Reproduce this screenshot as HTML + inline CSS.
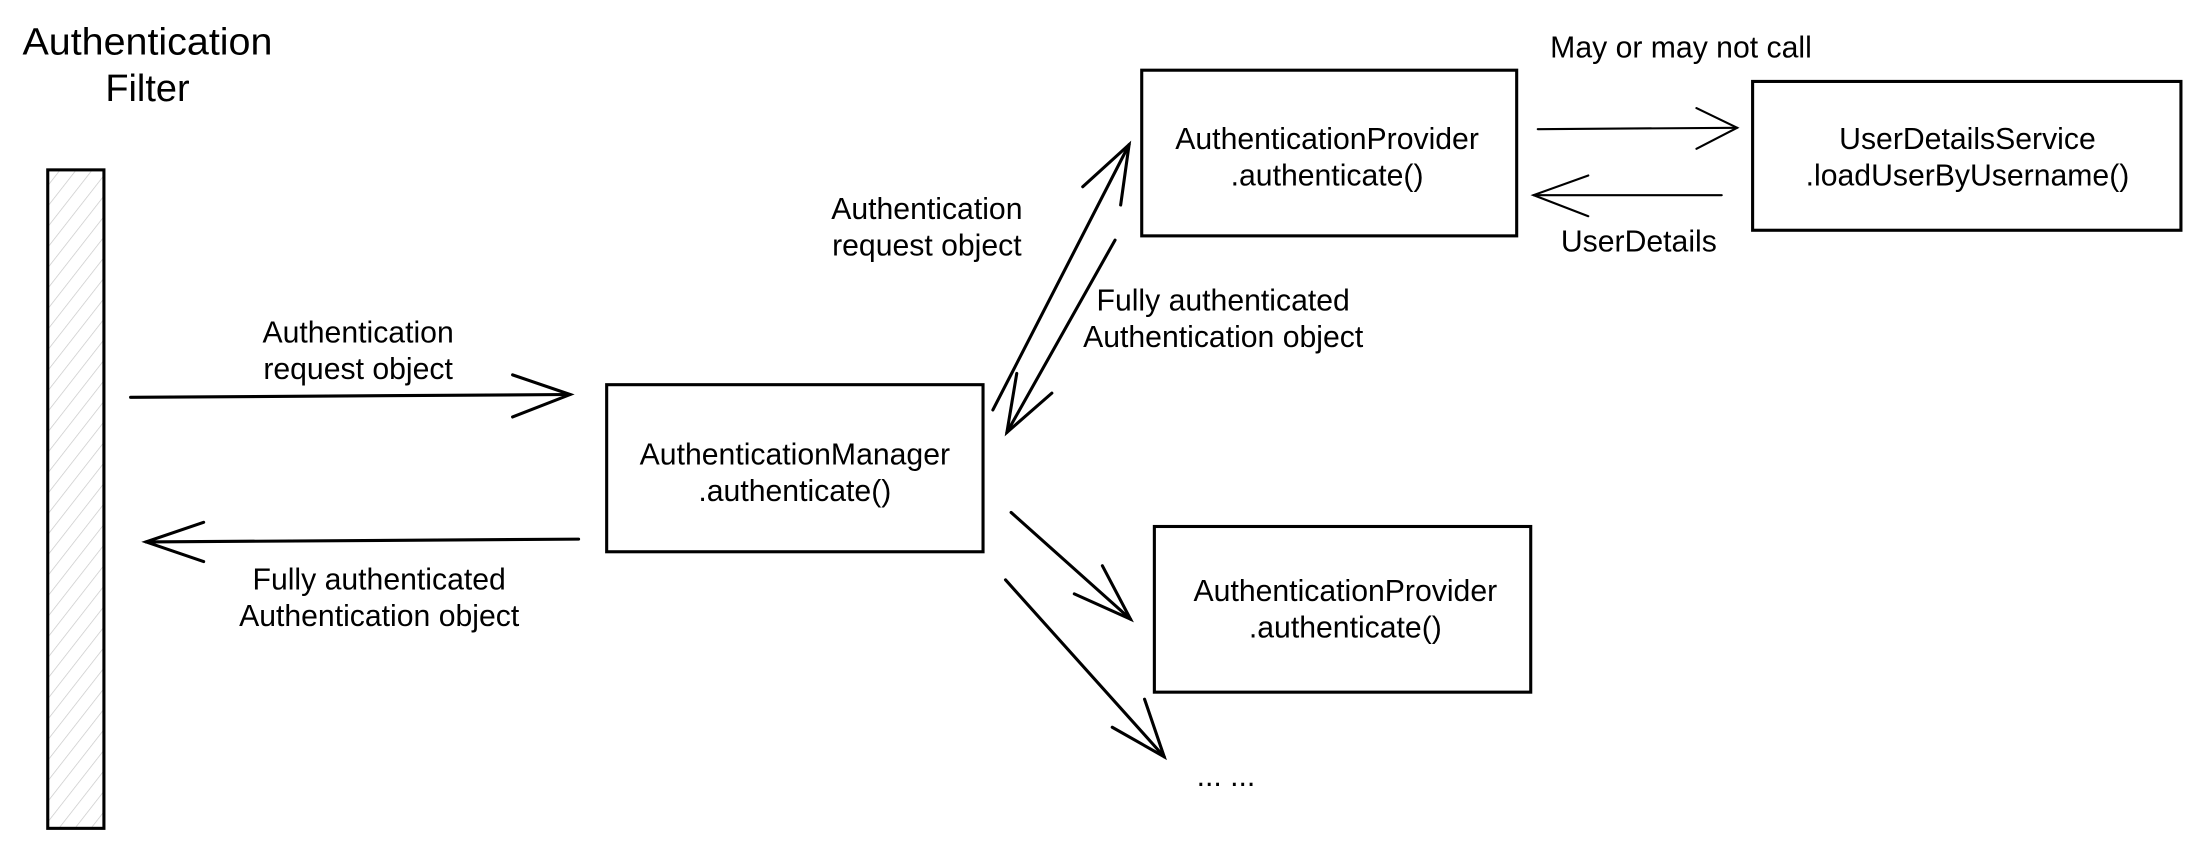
<!DOCTYPE html>
<html><head><meta charset="utf-8"><style>
html,body{margin:0;padding:0;background:#fff;width:2202px;height:848px;overflow:hidden}
svg{display:block}
text{font-family:"Liberation Sans",Arial,sans-serif;fill:#000}
</style></head><body>
<svg width="2202" height="848" viewBox="0 0 1568 604" preserveAspectRatio="none" xmlns="http://www.w3.org/2000/svg">
<defs>
<pattern id="h" patternUnits="userSpaceOnUse" width="9" height="9" patternTransform="rotate(38)">
<line x1="0" y1="0" x2="0" y2="9" stroke="#c8c8c8" stroke-width="1"/>
</pattern>
</defs>
<text x="105" y="39" font-size="27" text-anchor="middle" textLength="178" lengthAdjust="spacingAndGlyphs">Authentication</text>
<text x="105" y="72" font-size="27" text-anchor="middle">Filter</text>
<rect x="34" y="121" width="40" height="469" fill="url(#h)" stroke="#000" stroke-width="2.2"/>

<g fill="none" stroke="#000" stroke-width="2.2" stroke-linecap="round">
<line x1="93" y1="283" x2="406" y2="281"/>
<polyline points="365,267 406,281 365,297"/>
<line x1="412" y1="384" x2="104" y2="386"/>
<polyline points="145,372 104,386 145,400"/>
<line x1="707" y1="292" x2="804" y2="103"/>
<polyline points="771,133 804,103 798,146"/>
<line x1="794" y1="171" x2="717" y2="308"/>
<polyline points="724,266 717,308 749,280"/>
<line x1="720" y1="365" x2="805" y2="441"/>
<polyline points="785,403 805,441 765,423"/>
<line x1="716" y1="413" x2="829" y2="539"/>
<polyline points="815,498 829,539 792,518"/>
</g>
<g fill="none" stroke="#000" stroke-width="1.5" stroke-linecap="round">
<line x1="1095" y1="92" x2="1237" y2="91"/>
<polyline points="1208,77 1237,91 1208,106"/>
<line x1="1226" y1="139" x2="1092" y2="139"/>
<polyline points="1131,125 1092,139 1131,154"/>
</g>

<g fill="#fff" stroke="#000" stroke-width="2.2">
<rect x="432" y="274" width="268" height="119"/>
<rect x="813" y="50" width="267" height="118"/>
<rect x="822" y="375" width="268" height="118"/>
<rect x="1248" y="58" width="305" height="106"/>
</g>

<g font-size="21.5" text-anchor="middle">
<text x="255" y="244">Authentication</text>
<text x="255" y="270">request object</text>
<text x="270" y="420">Fully authenticated</text>
<text x="270" y="446">Authentication object</text>
<text x="566" y="331">AuthenticationManager</text>
<text x="566" y="357">.authenticate()</text>
<text x="660" y="156">Authentication</text>
<text x="660" y="182">request object</text>
<text x="871" y="221">Fully authenticated</text>
<text x="871" y="247">Authentication object</text>
<text x="945" y="106">AuthenticationProvider</text>
<text x="945" y="132">.authenticate()</text>
<text x="958" y="428">AuthenticationProvider</text>
<text x="958" y="454">.authenticate()</text>
<text x="873" y="560">... ...</text>
<text x="1197" y="41">May or may not call</text>
<text x="1401" y="106">UserDetailsService</text>
<text x="1401" y="132">.loadUserByUsername()</text>
<text x="1167" y="179">UserDetails</text>
</g>
</svg>
</body></html>
